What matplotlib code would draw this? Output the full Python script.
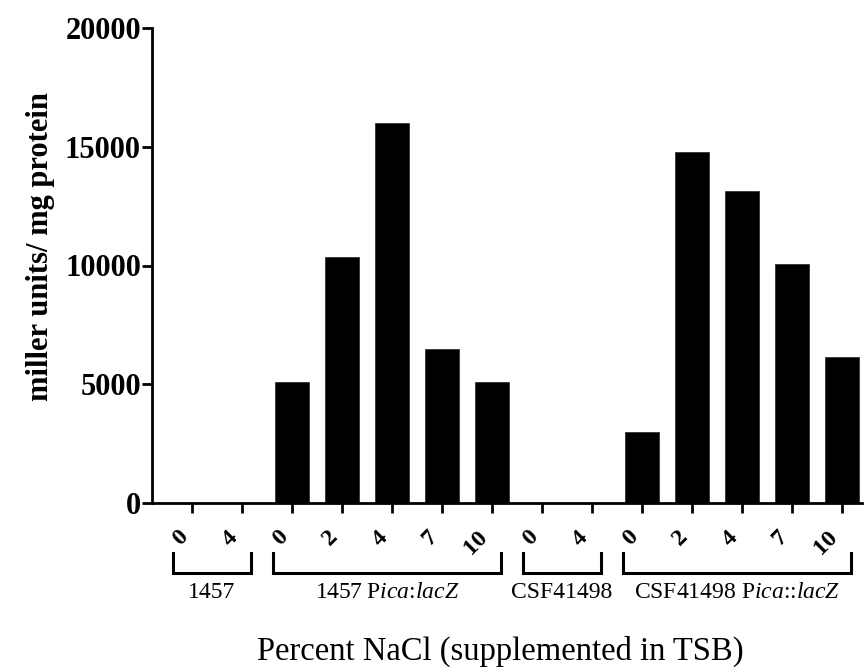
import matplotlib
matplotlib.use("Agg")
import matplotlib.pyplot as plt
import matplotlib.transforms as mtransforms

plt.rcParams['font.family'] = ['Liberation Serif', 'DejaVu Serif']
plt.rcParams['mathtext.fontset'] = 'custom'
plt.rcParams['mathtext.rm'] = 'Liberation Serif'
plt.rcParams['mathtext.it'] = 'Liberation Serif:italic'

# NaCl percent per bar, and groups (strain labels)
nacl = ["0", "4", "0", "2", "4", "7", "10", "0", "4", "0", "2", "4", "7", "10"]
values = [0, 0, 5100, 10350, 16000, 6500, 5100, 0, 0, 3000, 14800, 13150, 10050, 6150]
groups = ["1457", "1457 P$\\it{ica}$:$\\it{lacZ}$", "CSF41498", "CSF41498 P$\\it{ica}$::$\\it{lacZ}$"]
group_sizes = [2, 5, 2, 5]

fig = plt.figure(figsize=(8.66, 6.68), dpi=100)
ax = fig.add_axes([152 / 866, 1 - 503 / 668, (862 - 152) / 866, (503 - 28) / 668])

x = list(range(len(values)))
ax.bar(x, values, width=0.68, color="black", edgecolor="#333333", linewidth=0.6)

ax.set_xlim(-0.8, 13.4)
ax.set_ylim(0, 20000)
ax.set_yticks([0, 5000, 10000, 15000, 20000])
ax.set_yticklabels(["0", "5000", "10000", "15000", "20000"], fontsize=22, fontweight="bold")
ax.set_xticks(x)
ax.set_xticklabels(nacl, rotation=45, fontsize=17.5, fontweight="bold", ha="right", va="top")
# nudge rotated labels a little to the right, as in the original
shift = mtransforms.ScaledTranslation(4 / 72, 0, fig.dpi_scale_trans)
for lab in ax.get_xticklabels():
    lab.set_transform(lab.get_transform() + shift)

for s in ["top", "right"]:
    ax.spines[s].set_visible(False)
for s in ["left", "bottom"]:
    ax.spines[s].set_linewidth(2.0)
ax.tick_params(axis="both", width=2.0, length=7, color="black")
ax.tick_params(axis="x", pad=10)
ax.tick_params(axis="y", pad=1)

ax.set_ylabel("miller units/ mg protein", fontsize=22, fontweight="bold")
ax.yaxis.set_label_coords(-0.137, 0.54)

# group brackets below tick labels
trans = mtransforms.blended_transform_factory(ax.transData, fig.transFigure)
y_top = 1 - 553 / 668
y_bot = 1 - 573 / 668
y_lab = 1 - 592 / 668
start = 0
for name, n in zip(groups, group_sizes):
    x0 = start - 0.38
    x1 = start + n - 1 + 0.18
    ax.plot([x0, x0, x1, x1], [y_top, y_bot, y_bot, y_top], color="black",
            linewidth=2.2, transform=trans, clip_on=False, solid_joinstyle="miter")
    ax.text((x0 + x1) / 2, y_lab, name, transform=trans, ha="center", va="center",
            fontsize=17)
    start += n

fig.text(500 / 866, 1 - 660 / 668, "Percent NaCl (supplemented in TSB)",
         ha="center", va="baseline", fontsize=23.5)

fig.savefig("out.png", dpi=100)
